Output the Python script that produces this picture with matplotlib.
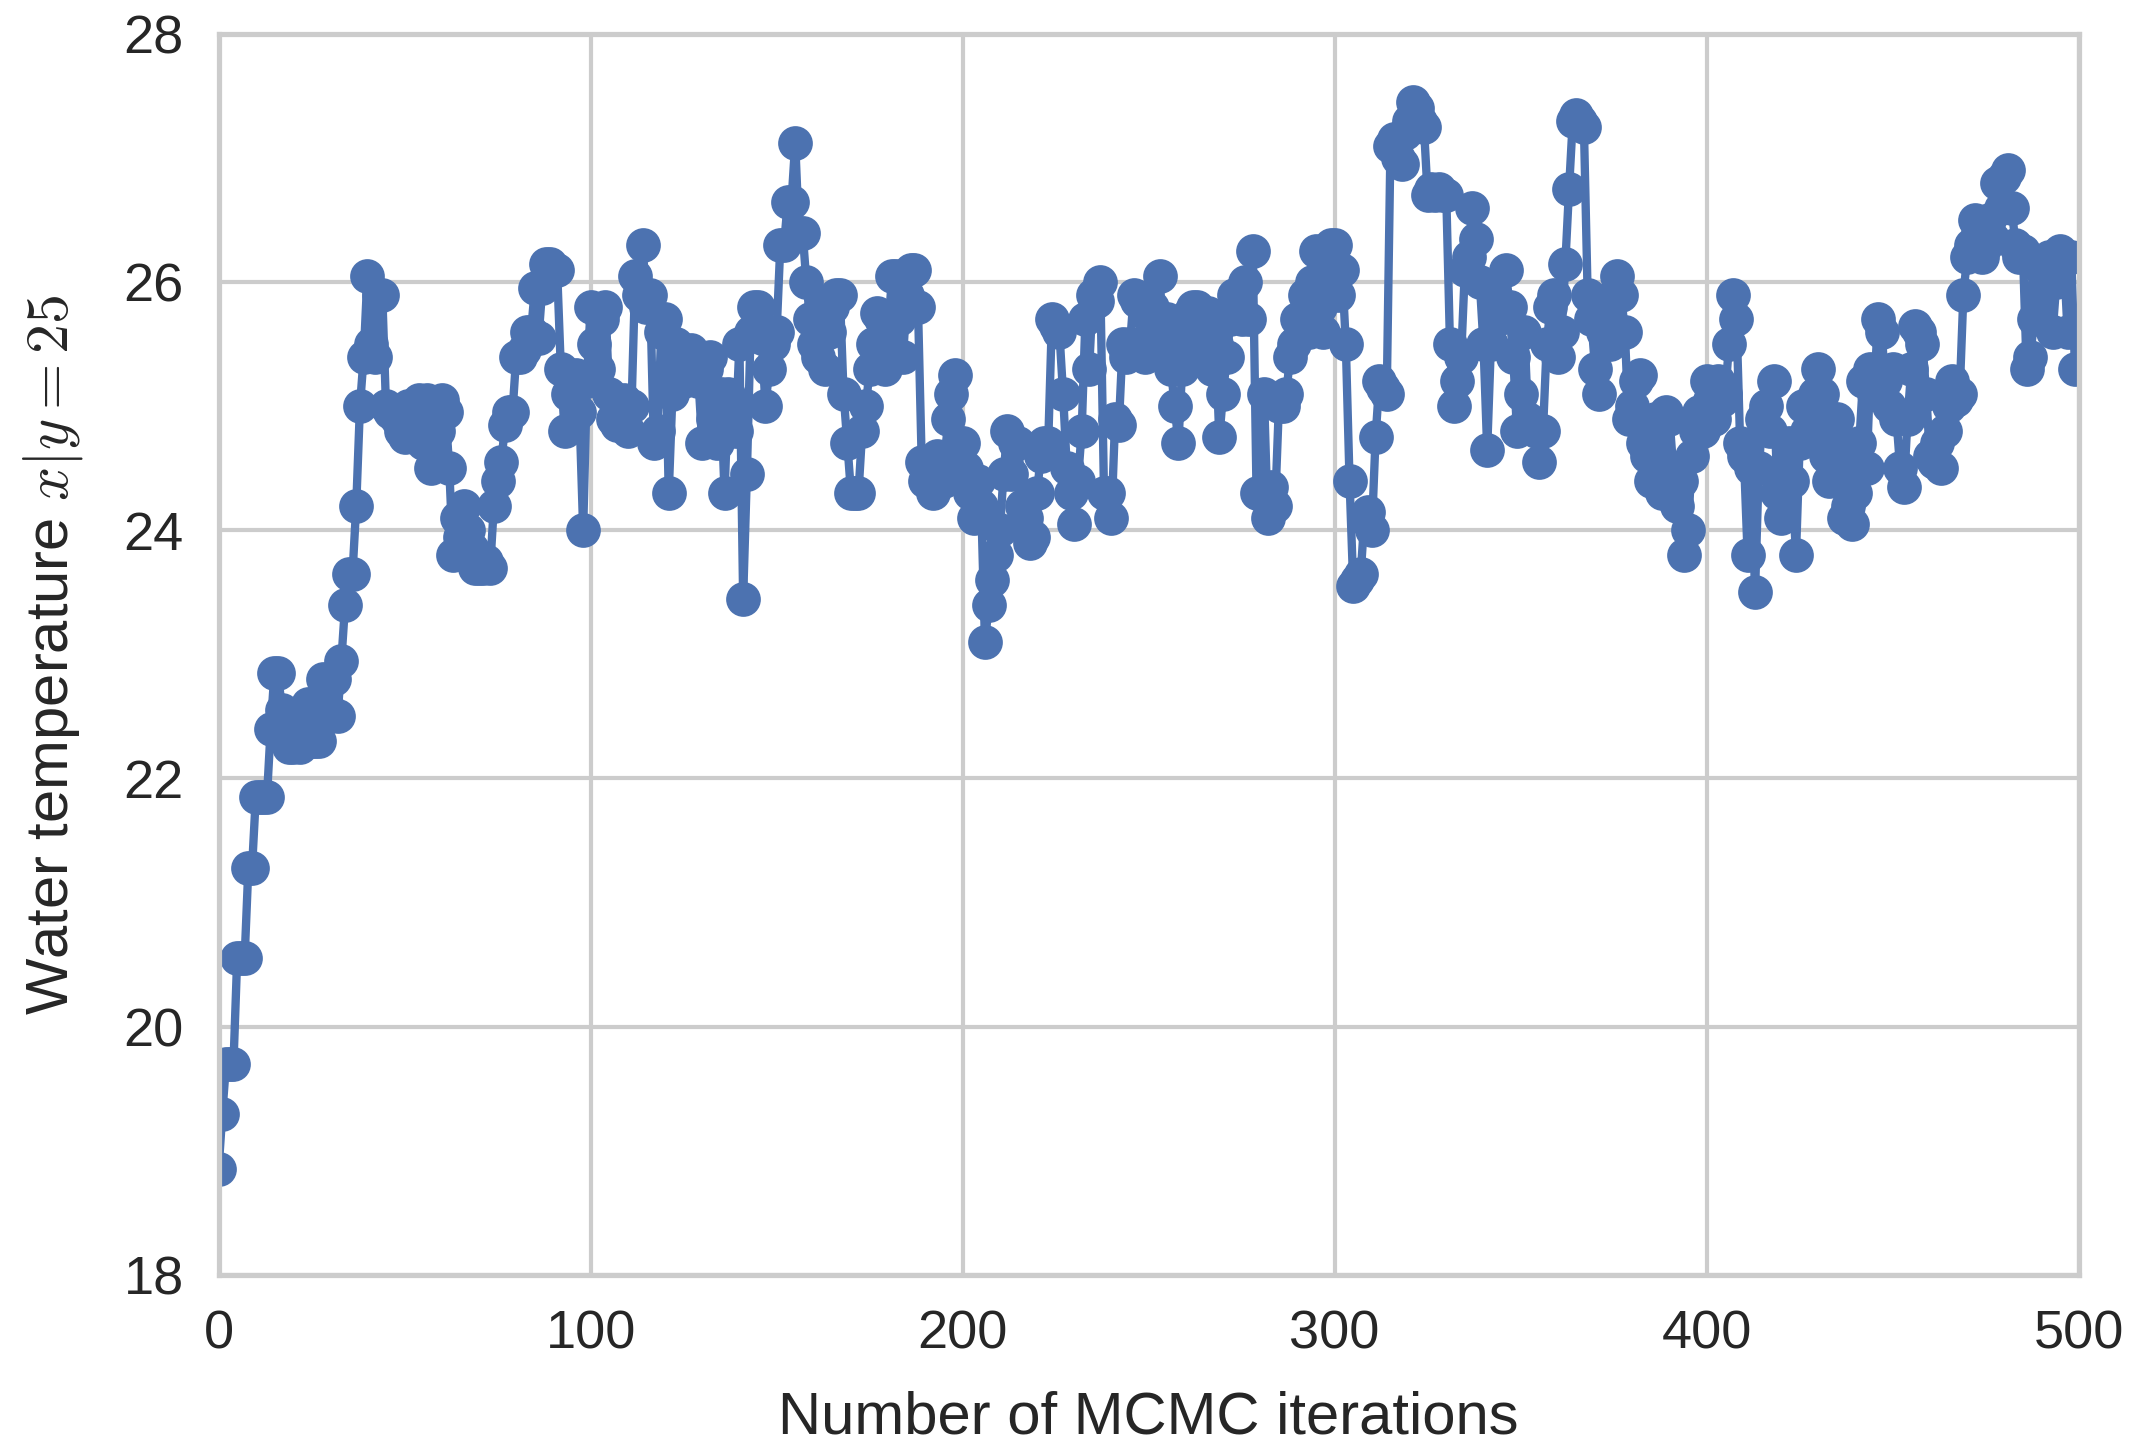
import numpy as np
import matplotlib
matplotlib.use("Agg")
import matplotlib.pyplot as plt
import seaborn as sns

iteration_values = [
    18.85, 19.30, 19.70, 19.70, 19.70, 20.55, 20.55, 20.55, 21.28, 21.28,
    21.85, 21.85, 21.85, 21.85, 22.40, 22.85, 22.85, 22.55, 22.35, 22.25,
    22.25, 22.35, 22.25, 22.40, 22.60, 22.30, 22.30, 22.30, 22.80, 22.60,
    22.50, 22.80, 22.50, 22.95, 23.40, 23.65, 23.65, 24.20, 25.00, 25.40,
    26.05, 25.50, 25.40, 25.90, 25.90, 25.00, 24.95, 24.95, 24.90, 24.80,
    24.75, 25.00, 24.95, 24.80, 25.05, 24.70, 25.05, 24.50, 24.65, 24.80,
    25.05, 24.95, 24.50, 23.80, 24.10, 23.95, 24.20, 24.00, 23.85, 23.70,
    23.70, 23.70, 23.75, 23.70, 24.20, 24.40, 24.55, 24.85, 24.95, 24.95,
    25.40, 25.40, 25.45, 25.60, 25.60, 25.95, 25.55, 25.95, 26.15, 26.15,
    26.10, 26.10, 25.30, 24.80, 25.10, 25.10, 25.25, 24.95, 24.00, 25.20,
    25.80, 25.50, 25.30, 25.70, 25.80, 25.10, 24.90, 24.85, 24.85, 25.05,
    24.80, 25.00, 26.05, 25.90, 26.30, 25.80, 25.90, 24.70, 24.80, 25.60,
    25.70, 24.30, 25.10, 25.50, 25.40, 25.20, 25.30, 25.45, 25.40, 25.20,
    24.70, 25.30, 25.40, 24.90, 24.70, 25.10, 24.30, 25.10, 25.00, 24.80,
    25.50, 23.45, 24.45, 25.60, 25.80, 25.80, 25.55, 25.00, 25.30, 25.50,
    25.60, 26.30, 26.30, 26.65, 26.65, 27.12, 26.40, 26.40, 26.00, 25.70,
    25.50, 25.40, 25.80, 25.30, 25.60, 25.80, 25.90, 25.90, 25.10, 24.70,
    24.30, 24.30, 24.30, 24.80, 25.00, 25.30, 25.50, 25.75, 25.70, 25.30,
    25.60, 26.05, 26.05, 25.70, 25.40, 25.90, 26.10, 26.10, 25.80, 24.55,
    24.40, 24.50, 24.30, 24.60, 24.40, 24.40, 24.90, 25.10, 25.25, 24.70,
    24.70, 24.50, 24.30, 24.10, 24.40, 24.20, 23.10, 23.40, 23.60, 23.80,
    24.00, 24.45, 24.80, 24.45, 24.70, 24.70, 24.20, 24.10, 23.90, 23.95,
    24.30, 24.60, 24.70, 24.70, 25.70, 25.65, 25.60, 25.10, 24.50, 24.30,
    24.05, 24.40, 24.80, 25.70, 25.30, 25.90, 25.85, 26.00, 24.30, 24.30,
    24.10, 24.90, 24.85, 25.50, 25.40, 25.50, 25.90, 25.85, 25.50, 25.40,
    25.50, 25.80, 25.60, 26.05, 25.40, 25.70, 25.30, 25.00, 24.70, 25.30,
    25.50, 25.75, 25.80, 25.80, 25.40, 25.60, 25.75, 25.30, 25.50, 24.75,
    25.10, 25.40, 25.70, 25.90, 25.90, 25.70, 26.00, 25.70, 26.25, 24.30,
    24.30, 25.10, 24.10, 24.35, 24.20, 25.00, 25.00, 25.10, 25.40, 25.50,
    25.70, 25.70, 25.90, 25.60, 26.00, 26.25, 25.80, 25.60, 26.00, 26.30,
    26.30, 25.90, 26.10, 25.50, 24.40, 23.55, 23.60, 23.65, 24.10, 24.15,
    24.00, 24.75, 25.20, 25.15, 25.10, 27.10, 27.15, 27.00, 26.95, 27.20,
    27.30, 27.45, 27.40, 27.30, 27.25, 26.70, 26.75, 26.70, 26.75, 26.70,
    26.70, 25.50, 25.00, 25.20, 25.40, 26.10, 26.20, 26.60, 26.35, 26.00,
    25.50, 24.65, 25.50, 25.90, 25.70, 25.80, 26.10, 25.80, 25.40, 24.80,
    25.10, 25.60, 24.90, 24.85, 24.80, 24.55, 24.80, 25.50, 25.80, 25.90,
    25.40, 25.60, 26.15, 26.75, 27.30, 27.35, 27.30, 27.25, 25.90, 25.70,
    25.30, 25.10, 25.60, 25.80, 25.50, 25.90, 26.05, 25.90, 25.60, 24.90,
    25.00, 25.20, 25.25, 24.70, 24.60, 24.40, 24.90, 24.60, 24.30, 24.95,
    24.90, 24.50, 24.20, 24.40, 23.80, 24.00, 24.60, 24.80, 24.95, 24.80,
    25.20, 25.05, 24.90, 25.20, 25.05, 25.10, 25.50, 25.90, 25.70, 24.70,
    24.60, 23.80, 24.50, 23.50, 24.50, 24.90, 25.00, 24.80, 25.20, 24.30,
    24.10, 24.50, 24.70, 24.40, 23.80, 24.70, 25.00, 24.80, 24.90, 25.10,
    25.30, 25.10, 24.60, 24.40, 24.70, 24.90, 24.50, 24.10, 24.20, 24.05,
    24.30, 24.70, 25.20, 24.50, 25.30, 25.10, 25.70, 25.60, 25.20, 25.00,
    25.30, 24.90, 24.50, 24.35, 24.90, 25.30, 25.65, 25.60, 25.50, 25.10,
    24.60, 24.55, 24.70, 24.50, 24.80, 25.00, 25.20, 25.05, 25.10, 25.90,
    26.20, 26.30, 26.50, 26.40, 26.20, 26.30, 26.50, 26.35, 26.80, 26.60,
    26.85, 26.90, 26.60, 26.30, 26.20, 26.25, 25.30, 25.40, 25.70, 25.90,
    26.10, 26.00, 26.20, 25.60, 26.00, 26.25, 26.20, 25.60, 26.20, 25.30,
]

x_ticks = [0, 100, 200, 300, 400, 500]
y_ticks = [18, 20, 22, 24, 26, 28]

sns.set_theme(style="whitegrid", context="talk")
plt.rcParams['font.family'] = ['Arial', 'Liberation Sans', 'DejaVu Sans']
plt.rcParams['mathtext.fontset'] = 'cm'

fig = plt.figure(figsize=(21.43 / 2, 14.47 / 2), dpi=200)
ax = fig.add_axes([0.102, 0.119, 0.868, 0.8575])

iters = np.arange(len(iteration_values))
ax.plot(iters, iteration_values, '-o', color='#4C72B0', lw=3.0, markersize=11.5)

ax.set_xlim(0, 500)
ax.set_ylim(18, 28)
ax.set_xticks(x_ticks)
ax.set_yticks(y_ticks)
ax.set_xlabel('Number of MCMC iterations', fontsize=21.5, labelpad=11)
ax.set_ylabel(r'Water temperature $x|y=25$', fontsize=21.5, labelpad=14)
ax.tick_params(labelsize=19.5)

fig.savefig('out.png', dpi=200)
